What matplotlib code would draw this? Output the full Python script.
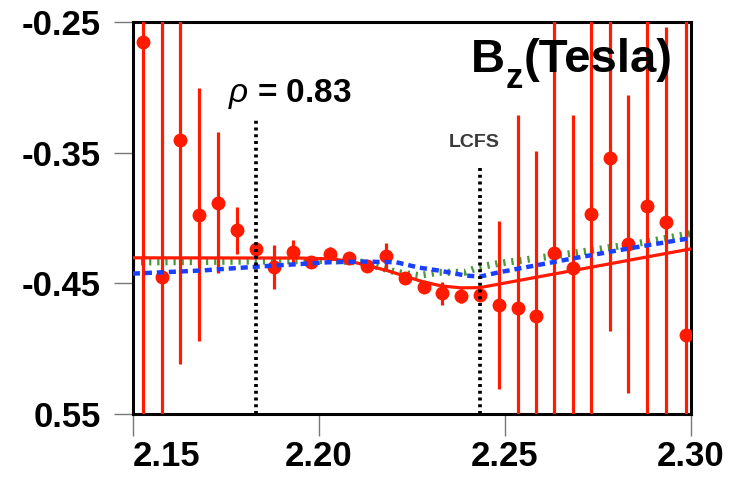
import numpy as np
import matplotlib

matplotlib.use("Agg")
import matplotlib.pyplot as plt
from matplotlib.transforms import offset_copy

plt.rcParams["font.family"] = ["Liberation Sans", "DejaVu Sans"]
plt.rcParams["mathtext.fontset"] = "custom"
plt.rcParams["mathtext.rm"] = "Liberation Sans"
plt.rcParams["mathtext.bf"] = "Liberation Sans:bold"
plt.rcParams["mathtext.it"] = "Liberation Sans:italic"

# measured points with error bars
r_major = [2.1528, 2.1579, 2.1628, 2.1678, 2.1729, 2.1780, 2.1830, 2.1879, 2.1930, 2.1979,
           2.2030, 2.2080, 2.2129, 2.2180, 2.2231, 2.2282, 2.2332, 2.2383, 2.2433, 2.2484,
           2.2534, 2.2583, 2.2633, 2.2682, 2.2732, 2.2783, 2.2832, 2.2883, 2.2934, 2.2988]
bz_meas = [-0.2653, -0.4449, -0.3406, -0.3974, -0.3882, -0.4096, -0.4236, -0.4377, -0.4262, -0.4339,
           -0.4275, -0.4308, -0.4370, -0.4295, -0.4456, -0.4525, -0.4577, -0.4594, -0.4589, -0.4666,
           -0.4692, -0.4748, -0.4272, -0.4385, -0.3967, -0.3539, -0.4196, -0.3909, -0.4031, -0.4898]
bz_err = [0.35, 0.30, 0.171, 0.097, 0.054, 0.018, 0.005, 0.017, 0.009, 0.003,
          0.005, 0.003, 0.003, 0.010, 0.003, 0.003, 0.009, 0.0055, 0.004, 0.064,
          0.148, 0.126, 0.20, 0.117, 0.20, 0.133, 0.114, 0.20, 0.149, 0.26]

# reconstructed profiles
fit_r = [2.1500, 2.1948, 2.2028, 2.2082, 2.2130, 2.2184, 2.2235, 2.2283, 2.2331, 2.2382, 2.2433, 2.3000]
fit_bz = [-0.4305, -0.4307, -0.4313, -0.4330, -0.4364, -0.4403, -0.4449, -0.4491, -0.4521, -0.4535, -0.4533, -0.4237]

blue_r = [2.1500, 2.1680, 2.1849, 2.2028, 2.2117, 2.2208, 2.2269, 2.2323, 2.2395, 2.2433, 2.2484, 2.2677, 2.2832, 2.3000]
blue_bz = [-0.4426, -0.4403, -0.4370, -0.4339, -0.4334, -0.4339, -0.4380, -0.4403, -0.4441, -0.4449, -0.4416, -0.4313, -0.4234, -0.4154]

green_r = [2.1500, 2.2028, 2.2117, 2.2208, 2.2269, 2.2323, 2.2393, 2.2430, 2.2481, 2.2677, 2.2889, 2.3000]
green_bz = [-0.4338, -0.4326, -0.4339, -0.4416, -0.4441, -0.4416, -0.4416, -0.4377, -0.4349, -0.4272, -0.4180, -0.4119]

rho_r, rho_top = 2.1830, -0.3227
lcfs_r, lcfs_top = 2.2433, -0.3621

y_ticks = [-0.25, -0.35, -0.45, -0.55]
y_labels = ["-0.25", "-0.35", "-0.45", "0.55"]
x_ticks = [2.15, 2.20, 2.25, 2.30]
x_labels = ["2.15", "2.20", "2.25", "2.30"]

RED = "#ff1a00"
BLUE = "#1a40ff"
GREEN = "#4a9a3a"

fig = plt.figure(figsize=(7.3, 4.78), dpi=100)
ax = fig.add_axes([0.182, 0.134, 0.7644, 0.8201])

ax.plot(green_r, green_bz, color=GREEN, lw=5.0,
        dashes=(0.32, 0.85), dash_capstyle="butt", zorder=2)
ax.errorbar(r_major, bz_meas, yerr=bz_err, fmt="o", color=RED, ms=9,
            elinewidth=2.3, capsize=0, zorder=3)
ax.plot(fit_r, fit_bz, color=RED, lw=2.3, zorder=3)
ax.plot(blue_r, blue_bz, color=BLUE, lw=3.2, dashes=(1.6, 1.1), zorder=4)

ax.plot([rho_r, rho_r], [-0.55, rho_top], color="black", lw=2.7,
        dashes=(0.8, 1.0), zorder=5)
ax.plot([lcfs_r, lcfs_r], [-0.55, lcfs_top], color="black", lw=2.7,
        dashes=(0.8, 1.0), zorder=5)

ax.text(2.1755, -0.3113, r"$\rho$ = 0.83", fontsize=24, fontweight="bold",
        ha="left", va="baseline")
ax.text(2.2417, -0.3458, "LCFS", fontsize=14, fontweight="bold", color="#3a3a3a",
        ha="center", va="baseline")

# B_z(Tesla) built from pieces so the subscript sits low like the original
renderer = fig.canvas.get_renderer()
t_b = ax.text(2.2409, -0.2883, "B", fontsize=34, fontweight="bold",
              ha="left", va="baseline")
w_b = t_b.get_window_extent(renderer).width * 72 / fig.dpi
t_z = ax.text(2.2409, -0.2883, "z", fontsize=25, fontweight="bold", ha="left", va="baseline",
              transform=offset_copy(ax.transData, fig=fig, x=w_b + 0.5, y=-11.5, units="points"))
w_z = t_z.get_window_extent(renderer).width * 72 / fig.dpi
ax.text(2.2409, -0.2883, "(Tesla)", fontsize=34, fontweight="bold", ha="left", va="baseline",
        transform=offset_copy(ax.transData, fig=fig, x=w_b + w_z + 1.0, y=0, units="points"))

ax.set_xlim(2.15, 2.30)
ax.set_ylim(-0.55, -0.25)
ax.set_yticks(y_ticks)
ax.set_yticklabels(y_labels)
ax.set_xticks(x_ticks)
ax.set_xticklabels(x_labels)
ax.get_xticklabels()[0].set_horizontalalignment("left")

for lab in ax.get_xticklabels() + ax.get_yticklabels():
    lab.set_fontweight("bold")
    lab.set_fontsize(25)

ax.tick_params(axis="y", direction="out", length=14, width=1, color="#777777", pad=9)
ax.tick_params(axis="x", direction="out", length=16, width=1, color="#777777", pad=3)

for sp in ax.spines.values():
    sp.set_linewidth(2.2)
    sp.set_color("black")

fig.savefig("out.png", dpi=100)
